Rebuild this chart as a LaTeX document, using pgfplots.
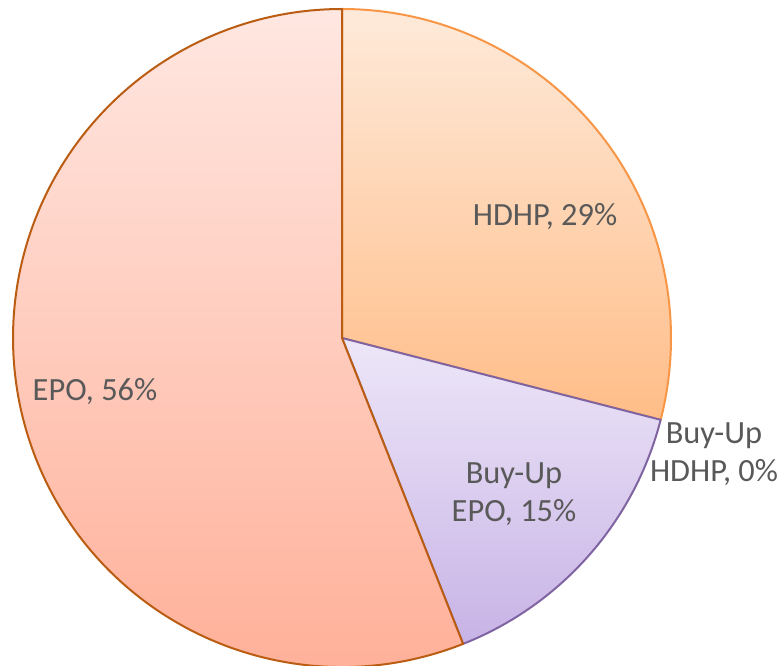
\documentclass[border=0pt]{standalone}
\usepackage{fontspec}
\setmainfont{Carlito}
\usepackage{pgfplots}
\usepackage{pgfplotstable}
\pgfplotsset{compat=1.18}
\definecolor{txt}{HTML}{595959}
\definecolor{hdTop}{HTML}{FEEADA}
\definecolor{hdBot}{HTML}{FFBD88}
\definecolor{hdEdge}{HTML}{F79646}
\definecolor{buTop}{HTML}{EDE7F8}
\definecolor{buBot}{HTML}{C8B3E6}
\definecolor{buEdge}{HTML}{8064A2}
\definecolor{epTop}{HTML}{FFE7E1}
\definecolor{epBot}{HTML}{FFAD95}
\definecolor{epEdge}{HTML}{BA5C12}
\pgfplotstableread{
label value
HDHP 29
BuyUpHDHP 0
BuyUpEPO 15
EPO 56
}\piedata
\begin{document}
\begin{tikzpicture}
\useasboundingbox (0,0) rectangle (781bp,666bp);
\begin{axis}[at={(0,0)},anchor=south west,scale only axis,
  width=781bp,height=666bp,xmin=0,xmax=781,ymin=0,ymax=666,
  hide axis,clip=false]
\pgfplotstablegetelem{0}{value}\of\piedata \let\vA\pgfplotsretval
\pgfplotstablegetelem{1}{value}\of\piedata \let\vB\pgfplotsretval
\pgfplotstablegetelem{2}{value}\of\piedata \let\vC\pgfplotsretval
\pgfplotstablegetelem{3}{value}\of\piedata \let\vD\pgfplotsretval
\pgfmathsetmacro{\aA}{90}
\pgfmathsetmacro{\aB}{\aA-3.6*\vA}
\pgfmathsetmacro{\aC}{\aB-3.6*\vB}
\pgfmathsetmacro{\aD}{\aC-3.6*\vC}
\pgfmathsetmacro{\aE}{\aD-3.6*\vD}
\path[top color=hdTop,bottom color=hdBot,draw=hdEdge,line width=2bp,line join=round]
  (axis cs:342,328) -- ++(\aA:329bp) arc[start angle=\aA,end angle=\aB,radius=329bp] -- cycle;
\path[top color=buTop,bottom color=buBot,draw=buEdge,line width=2bp,line join=round]
  (axis cs:342,328) -- ++(\aC:329bp) arc[start angle=\aC,end angle=\aD,radius=329bp] -- cycle;
\path[top color=epTop,bottom color=epBot,draw=epEdge,line width=2bp,line join=round]
  (axis cs:342,328) -- ++(\aD:329bp) arc[start angle=\aD,end angle=\aE,radius=329bp] -- cycle;
\begin{scope}[every node/.style={text=txt,font=\fontsize{32.5}{38.5}\selectfont,align=center,inner sep=0pt}]
\node at (axis cs:545,449) {HDHP, 29\%};
\node at (axis cs:714,212) {Buy-Up\\HDHP, 0\%};
\node at (axis cs:514,172) {Buy-Up\\EPO, 15\%};
\node at (axis cs:95,274) {EPO, 56\%};
\end{scope}
\end{axis}
\end{tikzpicture}
\end{document}
